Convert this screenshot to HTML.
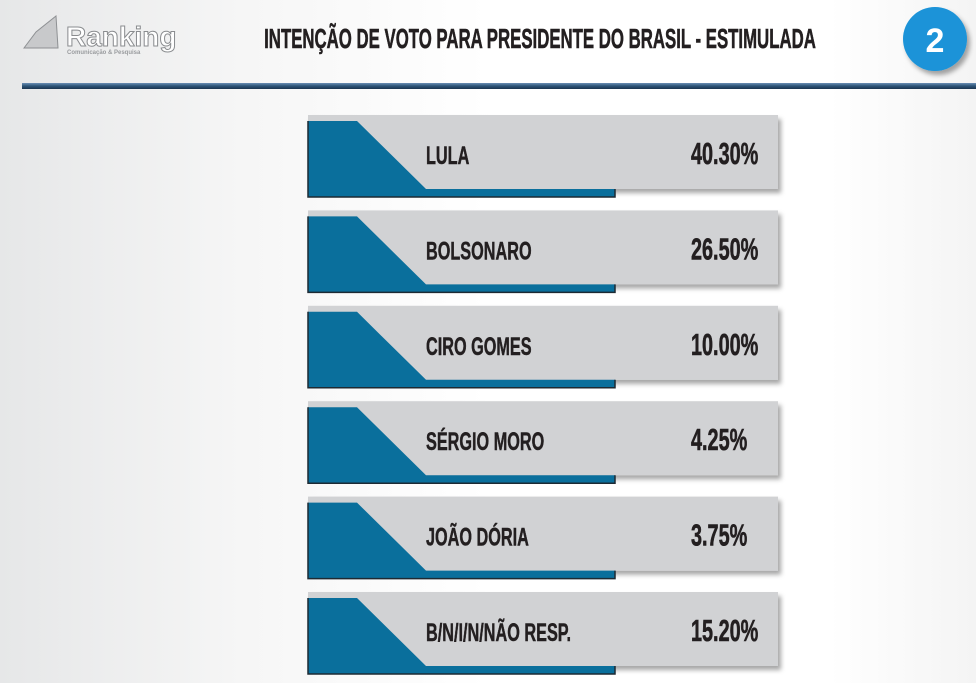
<!DOCTYPE html>
<html><head><meta charset="utf-8"><style>
html,body{margin:0;padding:0;width:976px;height:683px;overflow:hidden;background:linear-gradient(90deg,#e6e7e8 0%,#f6f6f6 25%,#fff 50%,#fff 85%,#f4f4f4 100%);}
text{font-family:"Liberation Sans Narrow","Liberation Sans",sans-serif;font-weight:bold;}
</style></head><body>
<svg id="chart" width="976" height="683" xmlns="http://www.w3.org/2000/svg">
  <defs>
    <linearGradient id="lineGrad" x1="0" y1="0" x2="0" y2="1">
      <stop offset="0" stop-color="#6c8fb5"/><stop offset="0.5" stop-color="#2d5478"/><stop offset="1" stop-color="#1b3550"/>
    </linearGradient>
    <filter id="sh" x="-5%" y="-10%" width="115%" height="140%"><feDropShadow dx="3" dy="4" stdDeviation="2.5" flood-color="#000" flood-opacity="0.35"/></filter>
  </defs>
  <g>
    <path d="M24 48 L36 32 L56 16 L58 48 Z" fill="#c8c9cb" stroke="#8e9093" stroke-width="1"/>
    <text x="66" y="46" font-size="28" fill="#fff" stroke="#8a8c8f" stroke-width="1">Ranking</text>
    <text x="67" y="54" font-size="6" fill="#9a9c9f">Comunicação &amp; Pesquisa</text>
  </g>
  <text x="540" y="48" font-size="28" text-anchor="middle" fill="#231f20" stroke="#231f20" stroke-width="0.6" transform="translate(540 0) scale(0.6 1) translate(-540 0)">INTENÇÃO DE VOTO PARA PRESIDENTE DO BRASIL - ESTIMULADA</text>
  <g>
    <circle cx="935" cy="39" r="32" fill="#1a93d8" filter="url(#sh)"/>
    <text x="935" y="52" font-size="34" text-anchor="middle" fill="#fff" font-family="Liberation Sans">2</text>
  </g>
  <rect x="22" y="83" width="954" height="6" fill="url(#lineGrad)"/>
  <g id="rows"></g>
</svg>
<script>
const candidates = ["LULA","BOLSONARO","CIRO GOMES","SÉRGIO MORO","JOÃO DÓRIA","B/N/I/N/NÃO RESP."];
const values = [40.30,26.50,10.00,4.25,3.75,15.20];
const valueLabels = ["40.30%","26.50%","10.00%","4.25%","3.75%","15.20%"];
const NS="http://www.w3.org/2000/svg";
const g=document.getElementById('rows');
function rowY(i){return 115+i*95.4;}
function mk(t,a){const e=document.createElementNS(NS,t);for(const k in a)e.setAttribute(k,a[k]);return e;}
candidates.forEach((c,i)=>{
  const y=rowY(i);
  const row=mk('g',{});
  
  
  const gray=mk('rect',{x:308,y:y,width:470,height:74,fill:'#d1d2d4',filter:'url(#sh)'});
  
  
  row.appendChild(gray);
  const blue=mk('path',{d:`M308 ${y+6} L357 ${y+6} L426 ${y+74} L615 ${y+74} L615 ${y+82} L308 ${y+82} Z`,fill:'#0a6f9c'});
  
  
  row.appendChild(blue);
  const edge=mk('path',{d:`M308 ${y+6} L308 ${y+82} L615 ${y+82} L615 ${y+74}`,fill:'none',stroke:'#1d2a33','stroke-width':1.5});
  
  
  row.appendChild(edge);
  const lab=mk('text',{x:426,y:y+49,'font-size':25,fill:'#231f20',stroke:'#231f20','stroke-width':0.5,transform:`translate(426 0) scale(0.65 1) translate(-426 0)`});
  lab.textContent=c;
  
  
  row.appendChild(lab);
  const v=mk('text',{x:691,y:y+49,'font-size':31,fill:'#231f20',stroke:'#231f20','stroke-width':0.6,transform:`translate(691 0) scale(0.64 1) translate(-691 0)`});
  v.textContent=valueLabels[i];
  
  
  v.setAttribute('data-value',values[i]);
  row.appendChild(v);
  g.appendChild(row);
});
</script>
</body></html>
